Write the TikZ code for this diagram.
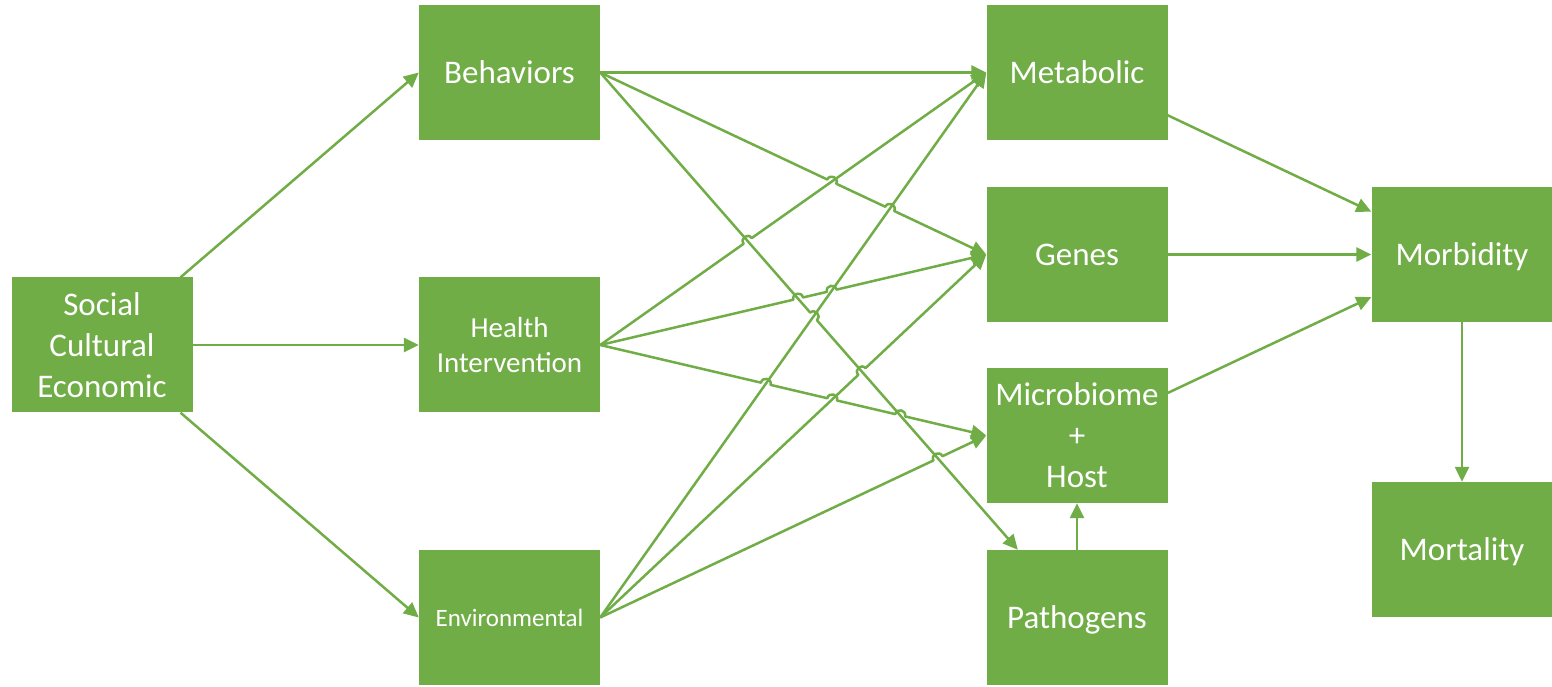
\documentclass[tikz,border=0pt]{standalone}
\usepackage{fontspec}
\setmainfont{Carlito}
\usetikzlibrary{arrows.meta,calc}
\definecolor{leaf}{HTML}{70AD47}
\begin{document}
\begin{tikzpicture}[x=1pt,y=1pt,
  box/.style={fill=leaf, text=white, minimum width=181pt, minimum height=135pt,
    inner sep=0pt, align=center, font=\fontsize{33}{41}\selectfont, text depth=0pt},
  conn/.style={draw=leaf, line width=2.5pt, line join=round,
    -{Triangle[length=15pt,width=14pt]}},
  hopover/.style={bend left=90, looseness=1.7}]
\useasboundingbox (0,0) rectangle (1552,686);

% boxes
\node[box] (soc) at (102,341)    {Social\\Cultural\\Economic};
\node[box] (beh) at (509.5,613.5) {Behaviors};
\node[box, font=\fontsize{29}{35}\selectfont] (hea) at (509.5,341) {Health\\Intervention};
\node[box, font=\fontsize{25}{30}\selectfont] (env) at (509.5,68.5) {Environmental};
\node[box] (met) at (1077,613.5) {Metabolic};
\node[box] (gen) at (1077,431.5) {Genes};
\node[box] (mic) at (1077,250.5) {Microbiome\\+\\Host};
\node[box] (pat) at (1077,68.5)  {Pathogens};
\node[box] (mor) at (1462,431.5) {Morbidity};
\node[box] (mrt) at (1462,136.5) {Mortality};

% crossing points of the middle connectors
\coordinate (x24) at (intersection of beh.east--gen.west and hea.east--met.west);
\coordinate (x27) at (intersection of beh.east--gen.west and env.east--met.west);
\coordinate (x37) at (intersection of beh.east--pat.center and env.east--met.west);
\coordinate (x43) at (intersection of hea.east--met.west and beh.east--pat.center);
\coordinate (x53) at (intersection of hea.east--gen.west and beh.east--pat.center);
\coordinate (x57) at (intersection of hea.east--gen.west and env.east--met.west);
\coordinate (x67) at (intersection of hea.east--mic.west and env.east--met.west);
\coordinate (x68) at (intersection of hea.east--mic.west and env.east--gen.west);
\coordinate (x63) at (intersection of hea.east--mic.west and beh.east--pat.center);
\coordinate (x83) at (intersection of env.east--gen.west and beh.east--pat.center);
\coordinate (x93) at (intersection of env.east--mic.west and beh.east--pat.center);

% first column
\draw[conn] (soc) -- (beh.west);
\draw[conn] (soc) -- (hea);
\draw[conn] (soc) -- (env.west);

% environmental connectors
\draw[conn] (env.east) -- (met.west);
\draw[conn] (env.east) -- ($(x83)!5pt!(env.east)$) to[hopover] ($(x83)!5pt!(gen.west)$) -- (gen.west);
\draw[conn] (env.east) -- ($(x93)!5pt!(env.east)$) to[hopover] ($(x93)!5pt!(mic.west)$) -- (mic.west);

% behaviors connectors
\draw[conn] (beh.east) -- (met.west);
\draw[conn] (beh.east) -- ($(x24)!5pt!(beh.east)$) to[hopover] ($(x24)!5pt!(gen.west)$)
  -- ($(x27)!5pt!(beh.east)$) to[hopover] ($(x27)!5pt!(gen.west)$) -- (gen.west);
\draw[conn] (beh.east) -- ($(x37)!5pt!(beh.east)$) to[hopover] ($(x37)!5pt!(pat.center)$) -- (pat);

% health intervention connectors
\draw[conn] (hea.east) -- ($(x43)!5pt!(hea.east)$) to[hopover] ($(x43)!5pt!(met.west)$) -- (met.west);
\draw[conn] (hea.east) -- ($(x53)!5pt!(hea.east)$) to[hopover] ($(x53)!5pt!(gen.west)$)
  -- ($(x57)!5pt!(hea.east)$) to[hopover] ($(x57)!5pt!(gen.west)$) -- (gen.west);
\draw[conn] (hea.east) -- ($(x67)!5pt!(hea.east)$) to[hopover] ($(x67)!5pt!(mic.west)$)
  -- ($(x68)!5pt!(hea.east)$) to[hopover] ($(x68)!5pt!(mic.west)$)
  -- ($(x63)!5pt!(hea.east)$) to[hopover] ($(x63)!5pt!(mic.west)$) -- (mic.west);

% right side
\draw[conn] (pat.north) -- (mic.south);
\draw[conn] (met) -- (mor);
\draw[conn] (gen) -- (mor);
\draw[conn] (mic) -- (mor);
\draw[conn] (mor.south) -- (mrt.north);
\end{tikzpicture}
\end{document}
